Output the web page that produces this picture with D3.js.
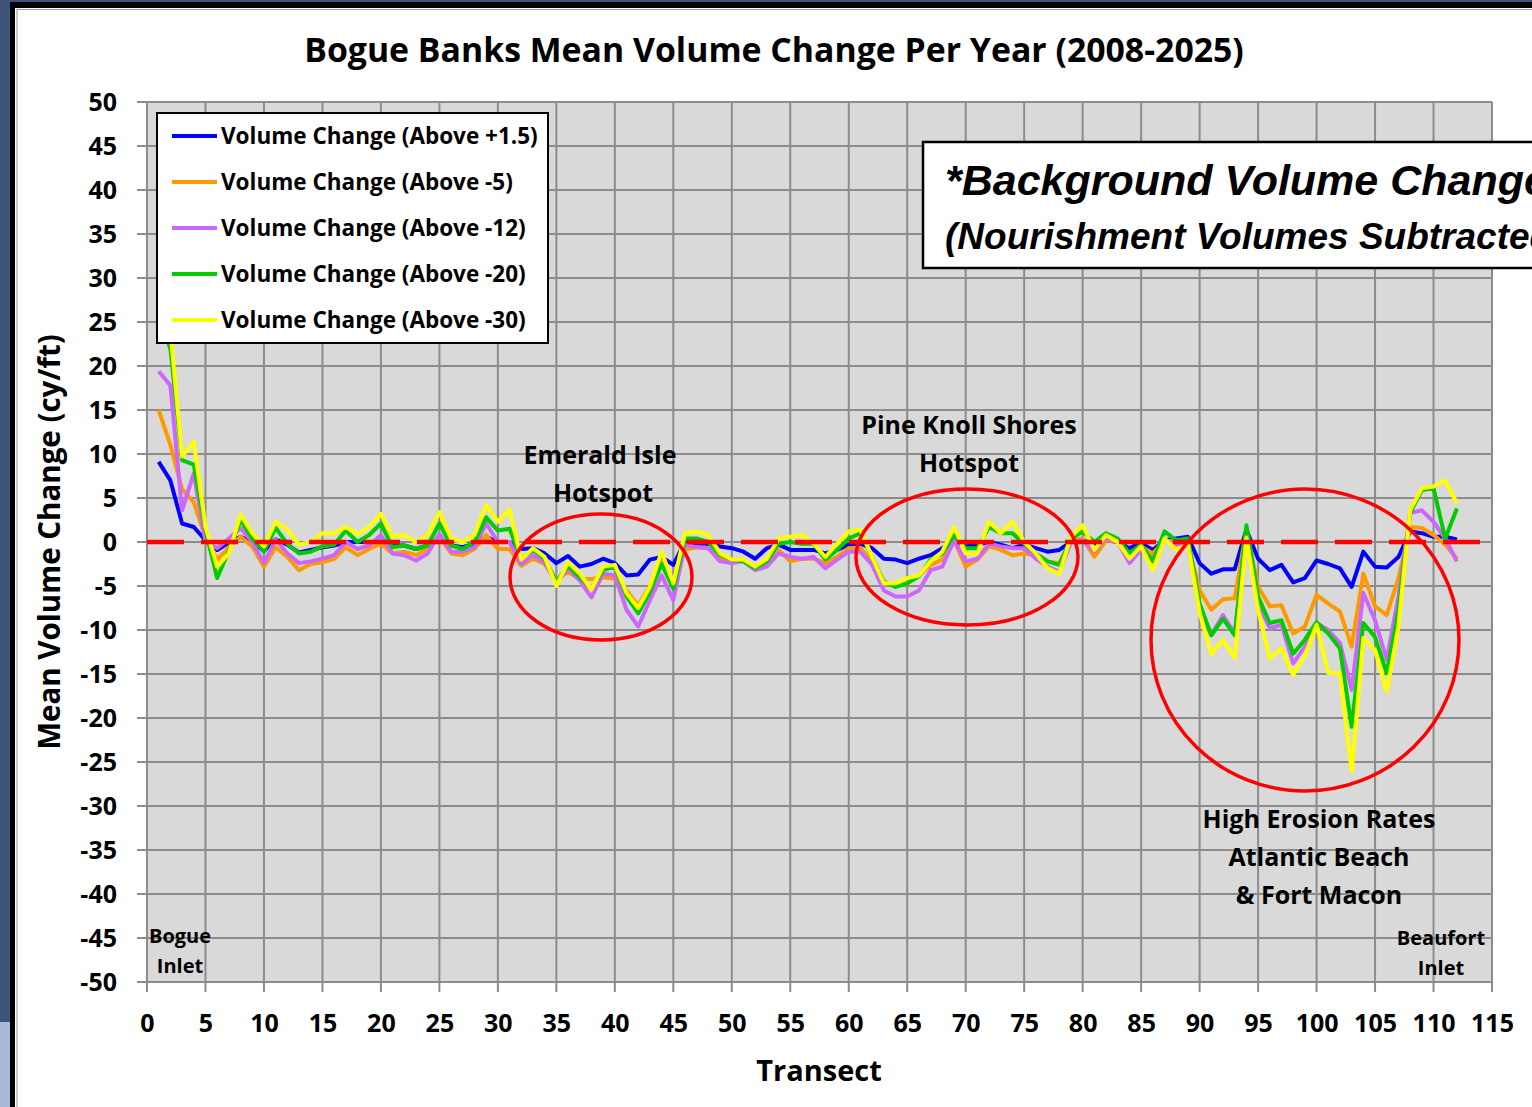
<!DOCTYPE html>
<html>
<head>
<meta charset="utf-8">
<script src="https://cdn.jsdelivr.net/npm/d3@7"></script>
<style>
  body { margin: 0; padding: 0; background: #fff; overflow: hidden; }
  svg { display: block; }
  .lbl { font-family: "Open Sans", Lato, sans-serif; font-weight: bold; fill: #000; }
</style>
</head>
<body>
<div id="my_dataviz"></div>
<script>
// set the dimensions of the page
var width = 1532,
    height = 1107

// plot area (pixel corners)
var plotLeft = 147, plotRight = 1492, plotTop = 102, plotBottom = 982

// transect numbers
var transects = d3.range(1, 113)

// series values (cy/ft), transects 1..112
var above15 = [9.1,7.0,2.1,1.7,0.2,-0.9,-0.1,0.6,0,-1.0,0.3,-0.3,-1.2,-0.9,-0.6,-0.4,0,0,0,0,
  -0.4,-0.4,-0.8,-0.4,0.4,-0.4,-0.6,-0.2,0.6,0,0,-0.8,-0.7,-1.3,-2.4,-1.6,-2.8,-2.5,-1.9,-2.4,
  -3.8,-3.7,-2.0,-1.7,-2.6,0,-0.2,-0.2,-0.5,-0.7,-1.1,-1.9,-0.7,-0.3,-0.9,-0.9,-0.9,-1.3,-0.9,-0.3,
  -0.2,-0.7,-1.9,-2.0,-2.4,-1.9,-1.5,-0.7,0.2,-0.5,-0.3,0,-0.3,-0.7,-0.3,-0.7,-1.1,-0.9,0,0.2,
  -0.2,0.2,0,-0.7,-0.1,-0.9,0.2,0.4,0.6,-2.4,-3.6,-3.1,-3.1,1.4,-1.9,-3.2,-2.6,-4.6,-4.1,-2.1,
  -2.5,-3.0,-5.1,-1.1,-2.8,-2.9,-1.7,1.2,1.0,0.6,0.6,0.3]

var above5 = [15,11,6,4.5,0.5,-2.0,-0.6,0.6,-0.5,-2.8,-0.6,-1.7,-3.2,-2.5,-2.3,-1.9,-0.6,-1.5,-0.8,-0.2,
  -1.3,-1.1,-1.5,-0.8,0.6,-1.3,-1.5,-0.8,0.8,-0.8,-0.8,-2.7,-1.9,-2.5,-4.3,-3.4,-4.2,-4.2,-4.0,-4.2,
  -5.5,-7.2,-5.0,-2.2,-4.6,-0.9,-0.6,-0.7,-2.0,-2.2,-2.0,-3.0,-2.6,-0.9,-2.2,-1.9,-1.9,-2.4,-1.7,-0.7,
  -0.7,-2.2,-4.7,-4.9,-4.7,-3.8,-2.6,-2.0,0.2,-2.8,-2.0,-0.5,-0.9,-1.5,-1.3,-1.5,-2.2,-2.4,0.2,0.4,
  -1.7,0.2,0,-1.5,-0.5,-1.3,0.2,0,-0.2,-5.5,-7.7,-6.5,-6.4,1.4,-5.1,-7.3,-7.2,-10.4,-9.6,-6.0,
  -7.0,-7.9,-11.9,-3.6,-7.3,-8.3,-4.1,1.7,1.6,0.8,-0.3,-1.9]

var above12 = [19.4,17.8,3.6,7.8,0,-0.7,0.4,1.6,0,-2.4,0.3,-1.3,-2.4,-2.2,-1.9,-1.5,0,-0.8,-0.4,0.8,
  -1.3,-1.5,-2.1,-1.3,0.9,-1.1,-1.1,-0.6,2.1,0,0,-2.5,-1.5,-2.3,-4.7,-3.0,-4.4,-6.3,-3.6,-3.8,
  -7.7,-9.6,-6.6,-3.8,-6.6,-0.3,-0.6,-0.7,-2.2,-2.4,-2.2,-3.2,-2.8,-1.3,-1.7,-1.9,-1.7,-3.0,-2.0,-1.1,
  -1.1,-2.6,-5.5,-6.2,-6.2,-5.5,-3.2,-2.8,0.2,-2.2,-1.9,-0.2,-0.5,-0.7,-0.7,-1.9,-2.8,-3.4,0,0.2,
  -1.1,0.5,0,-2.4,-0.9,-1.9,0.2,-0.3,-0.2,-7.5,-10.6,-8.3,-10.4,1.0,-7.0,-9.8,-9.4,-13.8,-11.9,-9.2,
  -10.0,-11.5,-16.8,-5.8,-8.9,-13.4,-6.2,3.3,3.6,2.3,0.4,-2.2]

var above20 = [25.4,22,9.3,8.8,1.4,-4.1,-1.0,2.5,0.4,-1.1,1.6,-0.2,-1.3,-1.1,-0.5,-0.3,1.3,0,0.8,2.1,
  -0.6,-0.4,-0.8,-0.4,2.1,-0.4,-0.8,0,2.8,1.3,1.5,-1.9,-0.9,-1.9,-4.5,-2.7,-4.0,-5.3,-3.2,-2.8,
  -6.2,-8.1,-5.7,-2.5,-5.3,0.4,0.4,0,-1.5,-2.0,-2.2,-3.0,-2.2,-0.2,0,-0.2,-0.2,-2.0,-0.9,0.4,
  1.0,-1.7,-4.5,-5.1,-4.7,-3.9,-2.0,-1.3,0.8,-0.7,-0.7,1.7,1.0,1.0,-0.2,-1.3,-2.2,-2.6,0.4,1.2,
  0,1.0,0.4,-1.3,-0.3,-2.2,1.2,0.2,0.4,-7.0,-10.6,-8.7,-10.6,1.9,-6.2,-9.2,-8.9,-12.7,-11.1,-9.1,
  -10.4,-12.1,-21.0,-9.2,-10.8,-14.9,-7.7,3.3,5.9,6.1,0.4,3.8]

var above30 = [29.5,24,9.7,11.4,1.7,-2.8,-1.3,3.1,1.0,-0.5,2.3,1.4,-0.3,0,1.0,1.0,1.7,0.9,1.7,3.2,
  0.6,0.8,0,0.8,3.4,0.4,0,0.8,4.2,2.3,3.7,-2.0,-0.7,-1.7,-5.0,-2.3,-3.6,-5.4,-2.8,-2.6,
  -5.8,-7.5,-5.1,-1.1,-4.7,1.0,1.2,0.8,-1.3,-2.0,-2.0,-2.8,-1.9,0.4,0.6,0.8,-0.2,-1.7,-0.2,1.2,
  1.4,-1.7,-4.7,-4.7,-4.1,-3.8,-2.2,-1.1,1.7,-1.3,-1.3,2.3,1.0,2.3,0,-1.3,-3.0,-3.6,0.6,1.9,
  -0.9,0.8,0,-1.9,-0.5,-3.2,0.4,-0.9,-0.2,-8.0,-12.7,-11.1,-13.2,0.5,-7.7,-13.2,-12.1,-15.1,-12.9,-9.4,
  -14.9,-14.9,-26.1,-10.9,-12.3,-17.0,-9.6,3.6,6.1,6.3,7.0,4.4]

var seriesNames = ["Volume Change (Above +1.5)", "Volume Change (Above -5)", "Volume Change (Above -12)",
                   "Volume Change (Above -20)", "Volume Change (Above -30)"]
var seriesValues = [above15, above5, above12, above20, above30]
var seriesColors = ["#0000ff", "#ff9900", "#cc66ff", "#00cc00", "#ffff00"]

// tick values
var xTicks = d3.range(0, 116, 5)
var yTicks = d3.range(-50, 51, 5)

var svg = d3.select("#my_dataviz")
  .append("svg")
    .attr("width", width)
    .attr("height", height)

// slide frame: dark blue edge, black border, white page
svg.append("rect").attr("x", 0).attr("y", 0).attr("width", width).attr("height", height).attr("fill", "#3d5579")
svg.append("rect").attr("x", 0).attr("y", 1022).attr("width", 10).attr("height", 85).attr("fill", "#a8bad8")
svg.append("rect").attr("x", 10).attr("y", 2).attr("width", width).attr("height", height).attr("fill", "#000")
svg.append("rect").attr("x", 15).attr("y", 8).attr("width", width).attr("height", height).attr("fill", "#fff")
svg.append("line").attr("x1", 17).attr("x2", 17).attr("y1", 9).attr("y2", height).attr("stroke", "#999").attr("stroke-width", 1)
svg.append("line").attr("x1", 17).attr("x2", width).attr("y1", 9.5).attr("y2", 9.5).attr("stroke", "#999").attr("stroke-width", 1)

var x = d3.scaleLinear().domain([0, 115]).range([plotLeft, plotRight])
var y = d3.scaleLinear().domain([-50, 50]).range([plotBottom, plotTop])

// plot background
svg.append("rect")
  .attr("x", plotLeft).attr("y", plotTop)
  .attr("width", plotRight - plotLeft).attr("height", plotBottom - plotTop)
  .attr("fill", "#d9d9d9")

// grid lines (they also make the outside tick marks)
svg.append("g")
  .selectAll("line.gy")
  .data(yTicks)
  .enter().append("line")
    .attr("x1", plotLeft - 10).attr("x2", plotRight)
    .attr("y1", function(d) { return y(d) }).attr("y2", function(d) { return y(d) })
    .attr("stroke", "#8c8c8c").attr("stroke-width", 2)

svg.append("g")
  .selectAll("line.gx")
  .data(xTicks)
  .enter().append("line")
    .attr("x1", function(d) { return x(d) }).attr("x2", function(d) { return x(d) })
    .attr("y1", plotTop).attr("y2", plotBottom + 10)
    .attr("stroke", "#8c8c8c").attr("stroke-width", 2)

// axes (labels only, the ticks are drawn with the grid)
var yAxis = svg.append("g")
  .attr("transform", "translate(" + plotLeft + ",0)")
  .call(d3.axisLeft(y).tickValues(yTicks).tickFormat(function(d) { return String(d) }).tickSize(10).tickPadding(20))
yAxis.select(".domain").remove()
yAxis.selectAll(".tick line").remove()
yAxis.selectAll("text").attr("class", "lbl").style("font-size", "25px")

var xAxis = svg.append("g")
  .attr("transform", "translate(0," + plotBottom + ")")
  .call(d3.axisBottom(x).tickValues(xTicks).tickFormat(function(d) { return String(d) }).tickSize(10).tickPadding(22))
xAxis.select(".domain").remove()
xAxis.selectAll(".tick line").remove()
xAxis.selectAll("text").attr("class", "lbl").style("font-size", "25px")

// series lines
var line = d3.line()
  .x(function(d) { return x(d[0]) })
  .y(function(d) { return y(d[1]) })

seriesValues.forEach(function(vals, i) {
  svg.append("path")
    .datum(transects.map(function(t, j) { return [t, vals[j]] }))
    .attr("d", line)
    .attr("fill", "none")
    .attr("stroke", seriesColors[i])
    .attr("stroke-width", 4)
    .attr("stroke-linejoin", "round")
})

// zero line
svg.append("line")
  .attr("x1", x(0)).attr("x2", x(115))
  .attr("y1", y(0)).attr("y2", y(0))
  .attr("stroke", "#ff0000").attr("stroke-width", 4.5)
  .attr("stroke-dasharray", "37,17")

// hotspot ellipses
var ellipses = [
  { cx: 601, cy: 577, rx: 91, ry: 63 },
  { cx: 967, cy: 557, rx: 111, ry: 68 },
  { cx: 1305, cy: 640, rx: 154, ry: 151 }
]
svg.append("g").selectAll("ellipse")
  .data(ellipses)
  .enter().append("ellipse")
    .attr("cx", function(d) { return d.cx }).attr("cy", function(d) { return d.cy })
    .attr("rx", function(d) { return d.rx }).attr("ry", function(d) { return d.ry })
    .attr("fill", "none").attr("stroke", "#ff0000").attr("stroke-width", 3.5)

// annotations
var notes = [
  { t: "Emerald Isle", x: 600, y: 464, s: 25 },
  { t: "Hotspot", x: 603, y: 502, s: 25 },
  { t: "Pine Knoll Shores", x: 969, y: 434, s: 25 },
  { t: "Hotspot", x: 969, y: 472, s: 25 },
  { t: "High Erosion Rates", x: 1319, y: 828, s: 25 },
  { t: "Atlantic Beach", x: 1319, y: 866, s: 25 },
  { t: "& Fort Macon", x: 1319, y: 904, s: 25 },
  { t: "Bogue", x: 180, y: 943, s: 20 },
  { t: "Inlet", x: 180, y: 973, s: 20 },
  { t: "Beaufort", x: 1441, y: 945, s: 20 },
  { t: "Inlet", x: 1441, y: 975, s: 20 }
]
svg.append("g").selectAll("text")
  .data(notes)
  .enter().append("text")
    .attr("class", "lbl")
    .attr("x", function(d) { return d.x }).attr("y", function(d) { return d.y })
    .attr("text-anchor", "middle")
    .style("font-size", function(d) { return d.s + "px" })
    .text(function(d) { return d.t })

// legend
var legend = svg.append("g")
legend.append("rect")
  .attr("x", 157).attr("y", 113).attr("width", 391).attr("height", 230)
  .attr("fill", "#fff").attr("stroke", "#000").attr("stroke-width", 2)
seriesNames.forEach(function(name, i) {
  var ly = 136 + i * 46
  legend.append("line")
    .attr("x1", 172).attr("x2", 217).attr("y1", ly).attr("y2", ly)
    .attr("stroke", seriesColors[i]).attr("stroke-width", 4)
  legend.append("text")
    .attr("class", "lbl")
    .attr("x", 221).attr("y", ly + 8)
    .style("font-size", "22.5px")
    .text(name)
})

// background volume note box (runs off the right edge, as in the slide)
var note = svg.append("g")
note.append("rect")
  .attr("x", 923).attr("y", 142).attr("width", 700).attr("height", 126)
  .attr("fill", "#fff").attr("stroke", "#000").attr("stroke-width", 2.5)
note.append("text")
  .attr("x", 945).attr("y", 195)
  .style("font-family", "'Liberation Sans', Arial, sans-serif")
  .style("font-weight", "bold").style("font-style", "italic")
  .style("font-size", "43px")
  .text("*Background Volume Change")
note.append("text")
  .attr("x", 945).attr("y", 249)
  .style("font-family", "'Liberation Sans', Arial, sans-serif")
  .style("font-weight", "bold").style("font-style", "italic")
  .style("font-size", "37px")
  .text("(Nourishment Volumes Subtracted)")

// titles
svg.append("text")
  .attr("class", "lbl")
  .attr("x", 774).attr("y", 62)
  .attr("text-anchor", "middle")
  .style("font-size", "33.8px")
  .text("Bogue Banks Mean Volume Change Per Year (2008-2025)")

svg.append("text")
  .attr("class", "lbl")
  .attr("x", 819).attr("y", 1081)
  .attr("text-anchor", "middle")
  .style("font-size", "29px")
  .text("Transect")

svg.append("text")
  .attr("class", "lbl")
  .attr("transform", "translate(60,542) rotate(-90)")
  .attr("text-anchor", "middle")
  .style("font-size", "29.5px")
  .text("Mean Volume Change (cy/ft)")
</script>
</body>
</html>
